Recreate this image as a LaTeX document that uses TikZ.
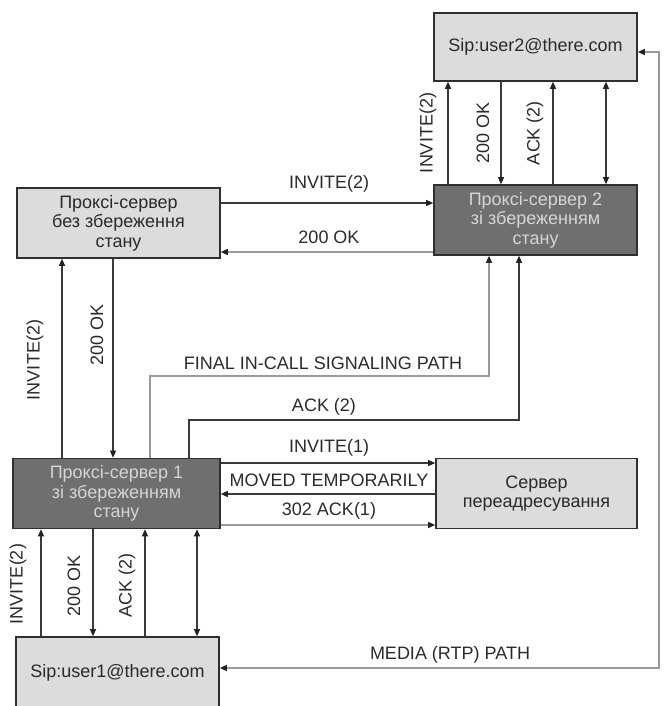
\documentclass[tikz,border=0pt]{standalone}
\usepackage{fontspec}
\setmainfont{Liberation Sans}
\usetikzlibrary{arrows.meta}
\definecolor{lightfill}{HTML}{DCDCDC}
\definecolor{darkfill}{HTML}{6F6F6F}
\definecolor{boxline}{HTML}{2F2F2F}
\definecolor{txt}{HTML}{2A2A2A}
\definecolor{darktxt}{HTML}{D5D5D5}
\definecolor{lncol}{HTML}{3A3A3A}
\definecolor{lnlight}{HTML}{9A9A9A}
\definecolor{tipcol}{HTML}{222222}
\begin{document}
\begin{tikzpicture}[x=1pt,y=-1pt,
  >={Triangle[length=7pt,width=6pt,color=tipcol]},
  basebox/.style={draw=boxline, line width=1.6pt, align=center, inner sep=0pt,
    font=\fontsize{18}{19.5}\selectfont},
  lightbox/.style={basebox, fill=lightfill, text=txt},
  darkbox/.style={basebox, fill=darkfill, text=darktxt},
  ln/.style={draw=lncol, line width=1.1pt},
  lnl/.style={draw=lnlight, line width=1.4pt},
  lbl/.style={text=txt, font=\fontsize{18}{20}\selectfont, inner sep=0pt},
  vlbl/.style={lbl, rotate=90}]
\useasboundingbox (0,0) rectangle (664,706);
\clip (0,0) rectangle (664,706);

% boxes
\node[lightbox, minimum width=203pt, minimum height=68pt] (u2) at (535.5,47) {Sip:user2@there.com};
\node[darkbox, minimum width=203pt, minimum height=70pt] (p2) at (535.5,220) {Проксі-сервер 2\\зі збереженням\\стану};
\node[lightbox, minimum width=203pt, minimum height=70pt] (sl) at (118.5,223) {Проксі-сервер\\без збереження\\стану};
\node[darkbox, minimum width=207pt, minimum height=70pt] (p1) at (116.5,493.5) {Проксі-сервер 1\\зі збереженням\\стану};
\node[lightbox, minimum width=201pt, minimum height=70pt] (rd) at (536.5,493.5) {Сервер\\переадресування};
\node[lightbox, minimum width=203pt, minimum height=72pt] (u1) at (117.5,673) {Sip:user1@there.com};

% helper coordinates
\coordinate (ta) at (448,0);
\coordinate (tb) at (501,0);
\coordinate (tc) at (553,0);
\coordinate (td) at (606,0);
\coordinate (ma) at (62,0);
\coordinate (mb) at (113,0);
\coordinate (ba) at (41,0);
\coordinate (bb) at (93,0);
\coordinate (bc) at (145,0);
\coordinate (bd) at (197,0);
\coordinate (fx) at (150,0);
\coordinate (fr) at (489,376);
\coordinate (gx) at (189,0);
\coordinate (gr) at (519,420);
\coordinate (ya) at (0,203);
\coordinate (yb) at (0,252);
\coordinate (y1) at (0,463);
\coordinate (y2) at (0,494);
\coordinate (y3) at (0,525);
\coordinate (ymt) at (0,52);
\coordinate (mr) at (659,668);

% user2 <-> proxy2
\draw[ln,->] (p2.north -| ta) -- (u2.south -| ta);
\draw[ln,->] (u2.south -| tb) -- (p2.north -| tb);
\draw[ln,->] (p2.north -| tc) -- (u2.south -| tc);
\draw[ln,<->] (p2.north -| td) -- (u2.south -| td);
\node[vlbl] (lt1) at (428,133) {INVITE(2)};
\node[vlbl] (lt2) at (483,133) {200 OK};
\node[vlbl] (lt3) at (535,133) {ACK (2)};

% stateless <-> proxy2
\draw[ln,->] (sl.east |- ya) -- (p2.west |- ya);
\draw[lnl,->] (p2.west |- yb) -- (sl.east |- yb);
\node[lbl] (lh1) at (329,184) {INVITE(2)};
\node[lbl] (lh2) at (329,237) {200 OK};

% stateless <-> proxy1
\draw[ln,->] (p1.north -| ma) -- (sl.south -| ma);
\draw[ln,->] (sl.south -| mb) -- (p1.north -| mb);
\node[vlbl] (lm1) at (35,360) {INVITE(2)};
\node[vlbl] (lm2) at (97,335) {200 OK};

% proxy1 -> proxy2
\draw[lnl,->] (p1.north -| fx) |- (fr) -- (p2.south -| fr);
\node[lbl] (lf) at (323,363) {FINAL IN-CALL SIGNALING PATH};
\draw[ln,->] (p1.north -| gx) |- (gr) -- (p2.south -| gr);
\node[lbl] (lg) at (324,407) {ACK (2)};

% proxy1 <-> redirect
\draw[ln,->] (p1.east |- y1) -- (rd.west |- y1);
\draw[ln,->] (rd.west |- y2) -- (p1.east |- y2);
\draw[lnl,->] (p1.east |- y3) -- (rd.west |- y3);
\node[lbl] (li1) at (329,448) {INVITE(1)};
\node[lbl] (li2) at (329,480) {MOVED TEMPORARILY};
\node[lbl] (li3) at (329,511) {302 ACK(1)};

% proxy1 <-> user1
\draw[ln,->] (u1.north -| ba) -- (p1.south -| ba);
\draw[ln,->] (p1.south -| bb) -- (u1.north -| bb);
\draw[ln,->] (u1.north -| bc) -- (p1.south -| bc);
\draw[ln,<->] (u1.north -| bd) -- (p1.south -| bd);
\node[vlbl] (lb1) at (18,584) {INVITE(2)};
\node[vlbl] (lb2) at (74,586) {200 OK};
\node[vlbl] (lb3) at (127,585) {ACK (2)};

% media path
\draw[lnl,<->] (u2.east |- ymt) -| (mr) -- (u1.east |- mr);
\node[lbl] (lmedia) at (450,655) {MEDIA (RTP) PATH};
\end{tikzpicture}
\end{document}
